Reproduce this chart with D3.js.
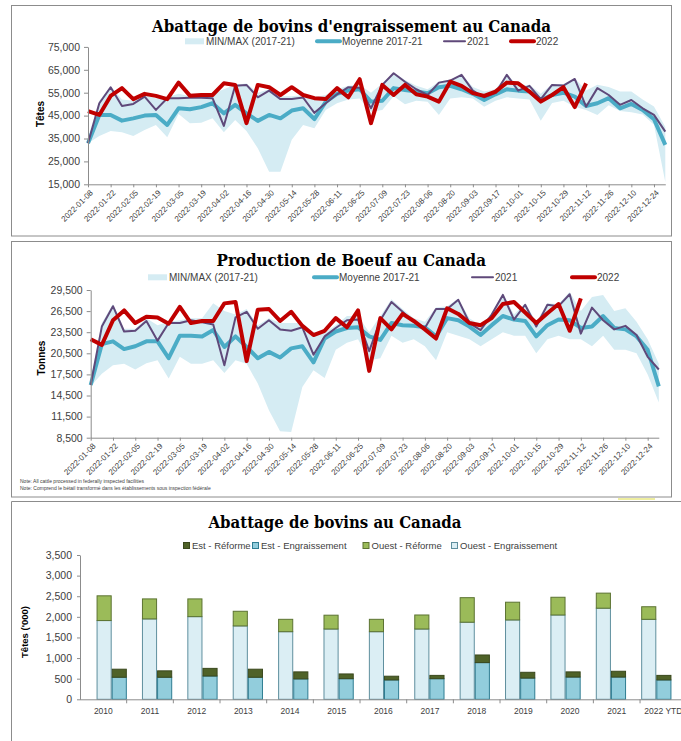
<!DOCTYPE html>
<meta charset="utf-8">
<style>
body { margin: 0; background: #fff; }
text { font-family: "Liberation Sans", Arial, sans-serif; }
</style>
<body>
<script src="https://cdn.jsdelivr.net/npm/d3@7"></script>
<script>

// ---- weekly data (week ending dates 2022-01-08 .. 2022-12-31) ----
var weeks = d3.timeDay.range(new Date(2022, 0, 8), new Date(2023, 0, 1), 7);

// Abattage de bovins d'engraissement (têtes)
var fedMin  = [32900, 36100, 38300, 37700, 36100, 38700, 40900, 35500, 45700, 41700, 41900, 43800, 37700, 43100, 38300, 30700, 20500, 20500, 34400, 40900, 39500, 47500, 50400, 52000, 52500, 46700, 47500, 53500, 50000, 51500, 51000, 45300, 52500, 53000, 52500, 48900, 51500, 53000, 52500, 52000, 42800, 50500, 51500, 48900, 47500, 45300, 49500, 47000, 46500, 45500, 41000, 16000];
var fedMax  = [35500, 51500, 57800, 52000, 51500, 54000, 52500, 53000, 54500, 53500, 53500, 54500, 56500, 58500, 59000, 55000, 56500, 53500, 53500, 54000, 53000, 54000, 56500, 58000, 58500, 55000, 59000, 63800, 60500, 58000, 56500, 59800, 60800, 63000, 57500, 55500, 56500, 63000, 58000, 58500, 54500, 58800, 58800, 61300, 56000, 58500, 57500, 55500, 55500, 52000, 49000, 40000];
var fedAvg  = [32900, 45300, 45300, 42800, 43800, 45000, 45300, 40900, 48200, 47800, 48700, 50400, 46000, 49700, 46000, 42700, 45300, 43800, 47200, 48200, 43500, 51000, 54500, 56000, 56500, 51100, 51500, 57000, 56200, 55500, 54800, 57400, 58000, 56500, 54500, 51800, 54300, 56500, 55900, 55500, 51800, 54000, 55000, 53300, 49200, 50400, 52600, 48200, 50100, 47500, 43400, 32200];
var fed2021 = [32900, 50400, 57400, 49200, 50100, 53300, 47500, 52600, 52600, 52800, 52800, 52600, 40500, 58000, 58400, 53000, 55900, 52200, 52300, 52900, 46200, 50400, 54300, 57400, 57200, 48200, 58400, 63500, 59800, 56500, 54000, 59400, 60300, 62800, 55900, 53000, 54800, 62800, 55900, 58000, 52200, 58400, 58100, 61000, 48900, 57000, 54000, 49700, 51800, 48200, 45300, 38000];
var fed2022 = [47000, 45300, 53600, 57000, 52200, 54500, 53600, 52200, 59400, 53700, 54000, 54000, 59100, 58400, 41700, 58400, 57400, 54000, 57400, 54000, 52600, 52200, 57000, 53000, 60900, 41700, 58400, 54000, 58400, 54300, 53300, 51100, 59800, 58000, 54800, 53600, 55500, 59400, 59100, 55500, 51100, 54000, 57400, 48700, 59100];
var fedTicks = [15000, 25000, 35000, 45000, 55000, 65000, 75000];

// Production de boeuf (tonnes)
var beefMin  = [15800, 17600, 18800, 19000, 18200, 19100, 19500, 16900, 20000, 19000, 19000, 19500, 17700, 19500, 19000, 16200, 12400, 9400, 9300, 15700, 18100, 17000, 21000, 22000, 22500, 19500, 19800, 23000, 22000, 22500, 21500, 19500, 23500, 23000, 22500, 21500, 22500, 23500, 23000, 23000, 20500, 22500, 23000, 22500, 22500, 21500, 23000, 21000, 21000, 20500, 17500, 13500];
var beefMax  = [17000, 24800, 27500, 24000, 24000, 25500, 24500, 25000, 25200, 25500, 25500, 27600, 26500, 26000, 26800, 24500, 25500, 24800, 24800, 24800, 23500, 23500, 24500, 25800, 25800, 23500, 25800, 28200, 26800, 25500, 25000, 27000, 27200, 28300, 25500, 24500, 26200, 29000, 26000, 27600, 25000, 27600, 27500, 29200, 26500, 28500, 28800, 26500, 26900, 25000, 22500, 19000];
var beefAvg  = [16000, 21800, 22200, 21100, 21500, 22200, 22200, 19800, 23000, 23000, 22900, 23800, 21400, 22900, 21400, 19800, 20700, 19900, 21200, 21500, 19200, 22600, 23600, 24100, 24200, 22900, 22400, 24800, 24500, 24400, 24200, 22900, 25500, 25200, 24300, 23100, 24500, 25800, 25300, 25100, 22900, 24500, 25300, 25200, 24100, 24300, 25800, 24100, 23900, 22900, 21000, 15800];
var beef2021 = [16000, 24300, 27200, 23600, 23700, 25100, 22300, 24800, 24800, 25200, 24900, 24600, 18800, 25600, 26400, 24000, 25200, 23900, 23700, 24200, 20300, 22900, 24100, 25200, 25300, 20800, 25200, 27800, 26400, 25000, 24100, 26800, 26800, 28100, 24800, 23800, 26000, 28800, 25300, 27400, 24300, 27400, 27200, 28900, 23300, 27000, 25200, 23900, 24400, 23100, 20000, 18200];
var beef2022 = [22500, 21700, 25200, 26600, 24800, 25700, 25600, 24700, 27100, 24800, 25100, 25100, 27600, 27800, 19400, 26700, 26800, 25100, 26400, 24400, 23100, 23700, 25500, 24200, 26600, 18000, 25500, 23900, 26100, 25100, 23900, 22600, 26900, 26100, 24800, 24500, 25500, 27500, 27800, 26300, 24800, 26200, 27500, 23700, 28300];
var beefTicks = [8500, 11500, 14500, 17500, 20500, 23500, 26500, 29500];

// Abattage de bovins au Canada ('000 têtes)
var years    = ["2010", "2011", "2012", "2013", "2014", "2015", "2016", "2017", "2018", "2019", "2020", "2021", "2022 YTD"];
var ouestEng = [1910, 1950, 2005, 1780, 1640, 1705, 1640, 1705, 1870, 1925, 2045, 2210, 1940];
var ouestRef = [600, 485, 430, 355, 300, 335, 300, 340, 595, 430, 430, 365, 305];
var estEng   = [535, 535, 565, 535, 495, 500, 470, 500, 890, 515, 540, 540, 470];
var estRef   = [195, 155, 185, 195, 170, 115, 90, 80, 185, 140, 125, 140, 110];
var cattleTicks = [0, 500, 1000, 1500, 2000, 2500, 3000, 3500];

var BAND = "#d5ecf3", AVG = "#4bacc6", Y21 = "#5f497a", Y22 = "#c00000",
    AXIS = "#8c8c8c", INK = "#404040";

var svg = d3.select("body").append("svg")
    .attr("width", 681)
    .attr("height", 741);

// panel frames
svg.append("rect").attr("x", 11.5).attr("y", 5.5).attr("width", 660).attr("height", 230.5)
    .attr("fill", "none").attr("stroke", AXIS);
svg.append("rect").attr("x", 11.5).attr("y", 241.5).attr("width", 660).attr("height", 255.5)
    .attr("fill", "none").attr("stroke", AXIS);
svg.append("path").attr("d", "M11.5,745V501.5H681").attr("fill", "none").attr("stroke", AXIS);
svg.append("rect").attr("x", 618).attr("y", 498).attr("width", 37).attr("height", 2).attr("fill", "#eeeea0");

function title(g, t, x, y, w) {
  g.append("text")
      .attr("x", x).attr("y", y)
      .attr("textLength", w).attr("lengthAdjust", "spacingAndGlyphs")
      .style("font-family", "'DejaVu Serif', serif")
      .style("font-weight", "bold")
      .style("font-size", "17px")
      .attr("fill", "#000")
      .text(t);
}

function yLabel(g, t, x, y, size) {
  g.append("text")
      .attr("transform", "translate(" + x + "," + y + ") rotate(-90)")
      .attr("text-anchor", "middle").attr("dy", "0.35em")
      .style("font-weight", "bold").style("font-size", size + "px")
      .attr("fill", "#000")
      .text(t);
}

function styleAxis(a, size) {
  a.selectAll(".domain, .tick line").attr("stroke", AXIS);
  a.selectAll("text").attr("fill", INK).style("font-size", size + "px")
      .style("font-family", "'Liberation Sans', Arial, sans-serif");
}

function weekly(o) {
  var g = svg.append("g");
  var x = d3.scaleTime().domain([weeks[0], weeks[weeks.length - 1]]).range([o.left, o.right]);
  var y = d3.scaleLinear().domain([o.yTicks[0], o.yTicks[o.yTicks.length - 1]]).range([o.bottom, o.top]);

  var area = d3.area()
      .x((d, i) => x(weeks[i]))
      .y0(d => y(d[0]))
      .y1(d => y(d[1]));
  var line = d3.line()
      .x((d, i) => x(weeks[i]))
      .y(d => y(d));

  g.append("path").datum(d3.zip(o.min, o.max)).attr("d", area).attr("fill", BAND);

  [[o.avg, AVG, 4], [o.y21, Y21, 2], [o.y22, Y22, 4]].forEach(function(s) {
    g.append("path").datum(s[0]).attr("d", line)
        .attr("fill", "none").attr("stroke", s[1]).attr("stroke-width", s[2])
        .attr("stroke-linejoin", "round");
  });

  var ya = g.append("g").attr("transform", "translate(" + o.left + ",0)")
      .call(d3.axisLeft(y).tickValues(o.yTicks).tickFormat(d3.format(","))
        .tickSize(4).tickSizeOuter(0).tickPadding(4));
  styleAxis(ya, 10.5);

  var xa = g.append("g").attr("transform", "translate(0," + o.bottom + ")")
      .call(d3.axisBottom(x).tickValues(weeks.filter((d, i) => i % 2 == 0))
        .tickFormat(d3.timeFormat("%Y-%m-%d")).tickSize(3).tickSizeOuter(0));
  styleAxis(xa, 8);
  xa.selectAll("text")
      .attr("text-anchor", "end").attr("x", 0).attr("y", 0).attr("dy", "0.35em")
      .attr("transform", "translate(3,7) rotate(-45)");

  title(g, o.title, o.titleX, o.titleY, o.titleW);
  yLabel(g, o.yLabel, o.yLabelX, o.yLabelY, 10);

  // legend
  var lg = g.append("g").attr("transform", "translate(0," + o.legendY + ")");
  var L = o.legendX;
  lg.append("rect").attr("x", L[0]).attr("y", -3).attr("width", 19).attr("height", 6).attr("fill", BAND);
  [[L[1], 23, AVG, 4], [L[2], 21, Y21, 2], [L[3], 23, Y22, 4]].forEach(function(s) {
    lg.append("line").attr("x1", s[0]).attr("x2", s[0] + s[1])
        .attr("stroke", s[2]).attr("stroke-width", s[3]).attr("stroke-linecap", "round");
  });
  var names = ["MIN/MAX (2017-21)", "Moyenne 2017-21", "2021", "2022"],
      ends = [L[0] + 21, L[1] + 25, L[2] + 23, L[3] + 25];
  names.forEach(function(n, i) {
    lg.append("text").attr("x", ends[i]).attr("dy", "0.35em")
        .style("font-size", "10px").attr("fill", INK).text(n);
  });
  return g;
}

weekly({
  title: "Abattage de bovins d'engraissement au Canada", titleX: 152, titleY: 31.5, titleW: 399,
  yLabel: "Têtes", yLabelX: 40, yLabelY: 114,
  left: 88, right: 665.3, top: 46.9, bottom: 184.3,
  yTicks: fedTicks, min: fedMin, max: fedMax, avg: fedAvg, y21: fed2021, y22: fed2022,
  legendY: 41.3, legendX: [185, 317, 444, 511]
});

var g2 = weekly({
  title: "Production de Boeuf au Canada", titleX: 216.5, titleY: 266, titleW: 269.5,
  yLabel: "Tonnes", yLabelX: 41, yLabelY: 358,
  left: 90.7, right: 658.8, top: 290, bottom: 437.7,
  yTicks: beefTicks, min: beefMin, max: beefMax, avg: beefAvg, y21: beef2021, y22: beef2022,
  legendY: 277.3, legendX: [148, 314, 472, 572]
});

g2.append("text").attr("x", 20).attr("y", 482.5).style("font-size", "5px").attr("fill", INK)
    .text("Note: All cattle processed in federally inspected facilities");
g2.append("text").attr("x", 20).attr("y", 490).style("font-size", "5px").attr("fill", INK)
    .text("Note: Comprend le bétail transformé dans les établissements sous inspection fédérale");

// ---- Abattage de bovins au Canada ----
var g3 = svg.append("g");
var rows = years.map((yr, i) => ({year: yr, ouestEng: ouestEng[i], ouestRef: ouestRef[i], estEng: estEng[i], estRef: estRef[i]}));

var xAxis3 = d3.scaleBand().domain(years).range([80, 80 + 13 * 46.67]);
var xBar = d3.scaleBand().domain(years).range([89, 679]);
var xSub = d3.scaleBand().domain(["Ouest", "Est"]).range([0, xBar.bandwidth()]).paddingOuter(0.5);
var y3 = d3.scaleLinear().domain([0, 3500]).range([699.3, 555]);

var look = {
  ouestEng: {fill: "#dbeef4", stroke: "#5f8f9e", label: "Ouest - Engraissement"},
  ouestRef: {fill: "#9bbb59", stroke: "#5c7332", label: "Ouest - Réforme"},
  estEng:   {fill: "#92cddc", stroke: "#2f7d92", label: "Est - Engraissement"},
  estRef:   {fill: "#4f6228", stroke: "#3a481d", label: "Est - Réforme"}
};

[["Ouest", ["ouestEng", "ouestRef"]], ["Est", ["estEng", "estRef"]]].forEach(function(grp) {
  var series = d3.stack().keys(grp[1])(rows);
  g3.selectAll(null).data(series).enter().append("g")
      .attr("fill", s => look[s.key].fill)
      .attr("stroke", s => look[s.key].stroke)
      .selectAll("rect").data(s => s).enter().append("rect")
      .attr("x", d => xBar(d.data.year) + xSub(grp[0]) + 0.5)
      .attr("width", xSub.bandwidth() - 1)
      .attr("y", d => y3(d[1]))
      .attr("height", d => y3(d[0]) - y3(d[1]));
});

var ya3 = g3.append("g").attr("transform", "translate(80,0)")
    .call(d3.axisLeft(y3).tickValues(cattleTicks).tickFormat(d3.format(","))
      .tickSize(3).tickSizeOuter(0).tickPadding(5));
styleAxis(ya3, 10.5);

var xa3 = g3.append("g").attr("transform", "translate(0,699.3)")
    .call(d3.axisBottom(xAxis3).tickSize(0).tickPadding(9).tickSizeOuter(0));
styleAxis(xa3, 8.5);
xa3.select(".domain").attr("d", "M80,0.5H681");
xa3.selectAll(".edge").data(years).enter().append("line")
    .attr("x1", d => xAxis3(d) + xAxis3.step()).attr("x2", d => xAxis3(d) + xAxis3.step())
    .attr("y1", 0).attr("y2", 4).attr("stroke", AXIS);

title(g3, "Abattage de bovins au Canada", 208.5, 528.3, 253);
yLabel(g3, "Têtes ('000)", 25, 632, 9.5);

var legend3 = [["estRef", 183], ["estEng", 252], ["ouestRef", 362.5], ["ouestEng", 451]];
legend3.forEach(function(l) {
  var k = look[l[0]];
  g3.append("rect").attr("x", l[1] + 0.5).attr("y", 542.5).attr("width", 6).attr("height", 6)
      .attr("fill", k.fill).attr("stroke", k.stroke);
  g3.append("text").attr("x", l[1] + 9).attr("y", 545.7).attr("dy", "0.35em")
      .style("font-size", "9.5px").attr("fill", INK).text(k.label);
});

</script>
